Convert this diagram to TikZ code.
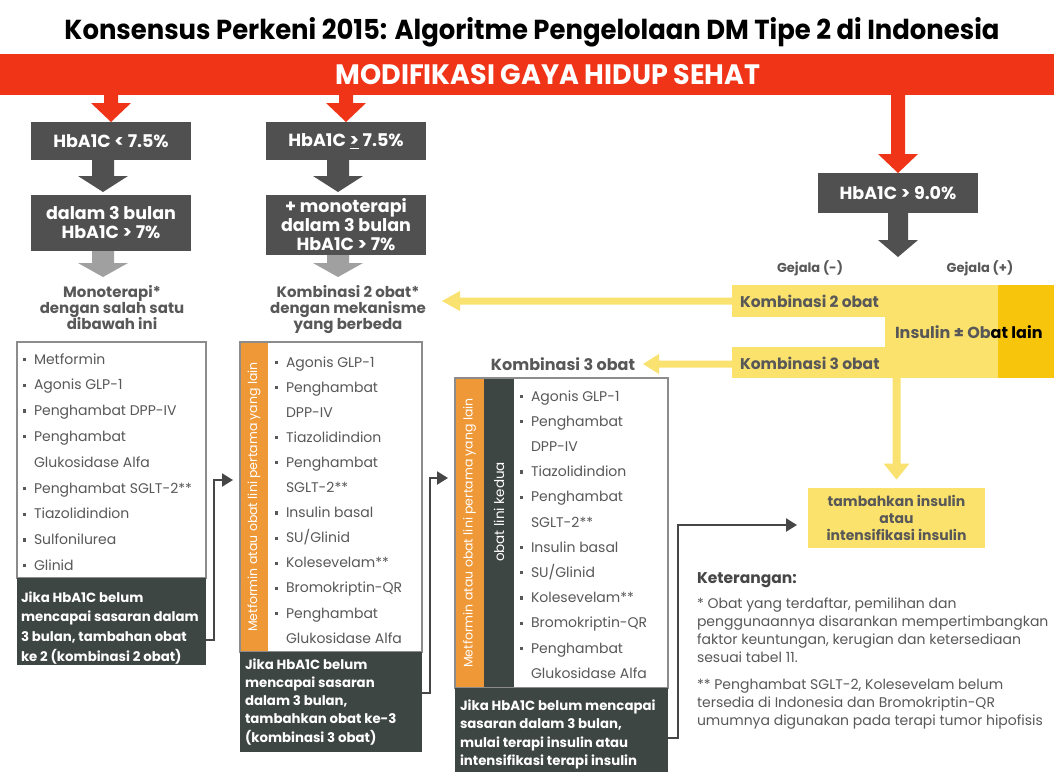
\documentclass[tikz,border=0pt]{standalone}
\usepackage{fontspec}
\setmainfont{Poppins}
\usetikzlibrary{arrows.meta,calc}
\definecolor{bannerred}{RGB}{240,52,24}
\definecolor{boxgray}{RGB}{80,80,80}
\definecolor{lightarrow}{RGB}{160,160,160}
\definecolor{darkbox}{RGB}{62,70,67}
\definecolor{txtgray}{RGB}{88,88,88}
\definecolor{bordergray}{RGB}{140,140,140}
\definecolor{orangestrip}{RGB}{238,152,56}
\definecolor{yel}{RGB}{251,226,108}
\definecolor{yelarrow}{RGB}{250,226,112}
\definecolor{gold}{RGB}{247,198,12}
\definecolor{connc}{RGB}{70,70,70}
\newcommand{\fs}[2]{\fontsize{#1}{#2}\selectfont}
\newcommand{\blt}{\makebox[11pt][l]{\raisebox{3pt}{\rule{3.2pt}{3.2pt}}}}
\newcommand{\barrow}[6]{\fill[#1] let \p1=#2, \p2=#3 in (\x2-#4,\y1) -- (\x2+#4,\y1) -- (\x2+#4,\y2+#6) -- (\x2+#5,\y2+#6) -- (\x2,\y2) -- (\x2-#5,\y2+#6) -- (\x2-#4,\y2+#6) -- cycle;}
\newcommand{\harrowL}[6]{\fill[#1] let \p1=#2, \p2=#3 in (\x1,\y2+#4) -- (\x2+#6,\y2+#4) -- (\x2+#6,\y2+#5) -- (\x2,\y2) -- (\x2+#6,\y2-#5) -- (\x2+#6,\y2-#4) -- (\x1,\y2-#4) -- cycle;}
\begin{document}
\begin{tikzpicture}[x=1pt,y=-1pt,
  every node/.style={inner sep=0pt,outer sep=0pt},
  box/.style 2 args={anchor=north west,minimum width=#1,minimum height=#2},
  hbox/.style={fill=boxgray,text=white,font=\fs{17.5}{19}\bfseries,align=center,minimum width=160pt},
  item/.style={anchor=base west,text=txtgray,font=\fs{14}{16}},
  dtxt/.style={anchor=base west,text=white,font=\fs{13.3}{16}\bfseries},
  htxt/.style={anchor=base,text=txtgray,font=\fs{15}{16}\bfseries},
  ktxt/.style={anchor=base west,text=txtgray,font=\fs{14}{16}},
  conn/.style={draw=connc,line width=2.2pt,-{Triangle[length=11pt,width=13pt]}}]
\useasboundingbox (0,0) rectangle (1054,772);
\fill[white] (0,0) rectangle (1054,772);

% title and banner
\node (title) at (532,32) {\resizebox{935pt}{22pt}{\bfseries Konsensus Perkeni 2015: Algoritme Pengelolaan DM Tipe 2 di Indonesia}};
\node[box={1054pt}{41pt},fill=bannerred] (banner) at (0,54) {};
\node[text=white] (bannertxt) at (548,75) {\resizebox{425pt}{20pt}{\bfseries MODIFIKASI GAYA HIDUP SEHAT}};

% top boxes
\node[hbox,minimum height=38pt] (h1) at (111,141) {HbA1C < 7.5\%};
\node[hbox,minimum height=38pt] (h2) at (346,141) {HbA1C \underline{>} 7.5\%};
\node[hbox,minimum height=56pt] (m1) at (111,223) {dalam 3 bulan\\HbA1C > 7\%};
\node[hbox,minimum height=60pt] (m2) at (346,225) {+ monoterapi\\dalam 3 bulan\\HbA1C > 7\%};
\node[hbox,minimum height=40pt] (h3) at (898,193) {HbA1C > 9.0\%};

% block arrows
\barrow{bannerred}{(banner.south -| h1.north)}{(h1.north)}{7pt}{20pt}{19pt}
\barrow{bannerred}{(banner.south -| h2.north)}{(h2.north)}{7pt}{20pt}{19pt}
\barrow{bannerred}{(banner.south -| h3.north)}{(h3.north)}{7pt}{20pt}{19pt}
\barrow{boxgray}{([xshift=-8pt]h1.south)}{([xshift=-8pt,yshift=3pt]m1.north)}{11pt}{25pt}{16pt}
\barrow{boxgray}{([xshift=-8pt]h2.south)}{([xshift=-8pt,yshift=3pt]m2.north)}{11pt}{25pt}{16pt}
\coordinate (g1) at (103,277);
\coordinate (g2) at (338,277);
\barrow{lightarrow}{(m1.south -| g1)}{(g1)}{11pt}{25pt}{14pt}
\barrow{lightarrow}{(m2.south -| g2)}{(g2)}{11pt}{25pt}{14pt}
\coordinate (g3) at (898,257);
\barrow{boxgray}{(h3.south)}{(g3)}{10pt}{20pt}{17pt}

% headers
\foreach \t [count=\i from 0] in {Monoterapi*,dengan salah satu,dibawah ini}
  \node[htxt] (hda\i) at (112,297+\i*16) {\t};
\foreach \t [count=\i from 0] in {Kombinasi 2 obat*,dengan mekanisme,yang berbeda}
  \node[htxt] (hdb\i) at (348,297+\i*16) {\t};

% right side yellow block
\node[text=txtgray,font=\fs{13}{14}\bfseries] (gm) at (810,268) {Gejala (-)};
\node[text=txtgray,font=\fs{13}{14}\bfseries] (gp) at (980,268) {Gejala (+)};
\node[box={153pt}{32pt},fill=yel] (k2) at (732,285) {};
\node[box={153pt}{31pt},fill=yel] (k3) at (732,347) {};
\node[box={170pt}{93pt},fill=yel] (ins) at (884.5,285) {};
\node[box={56pt}{93pt},fill=gold] (goldp) at (998,285) {};
\node[anchor=west,text=txtgray,font=\fs{15.5}{16}\bfseries] (k2t) at (740,301) {Kombinasi 2 obat};
\node[anchor=west,text=txtgray,font=\fs{15.5}{16}\bfseries] (k3t) at (740,363) {Kombinasi 3 obat};
\node[anchor=west,font=\fs{16}{16}\bfseries] (inst) at (895,332) {\textcolor{txtgray}{Insulin ± Ob}\textcolor{black}{at lain}};
\coordinate (y2tip) at (442,301);
\coordinate (y3tip) at (643,364);
\harrowL{yelarrow}{(k2.west)}{(y2tip)}{3.5pt}{10pt}{18pt}
\harrowL{yelarrow}{(k3.west |- y3tip)}{(y3tip)}{3.5pt}{10pt}{16pt}

\node[fill=yel,minimum width=177pt,minimum height=60pt,align=center,text=txtgray,font=\fs{14}{17}\bfseries] (tam) at (896.5,517.5) {tambahkan insulin\\atau\\intensifikasi insulin};
\barrow{yelarrow}{(tam.north |- ins.south)}{([yshift=8pt]tam.north)}{4pt}{13pt}{16pt}

\node[anchor=center,text=txtgray,font=\fs{16}{18}\bfseries] (k3lbl) at (563,364) {Kombinasi 3 obat};

% list box 1
\node[box={189pt}{236pt},draw=bordergray,line width=1.2pt] (l1) at (17,342) {};
\foreach \t [count=\i from 0] in {{\blt Metformin},{\blt Agonis GLP-1},{\blt Penghambat DPP-IV},{\blt Penghambat},{\hspace*{11pt}Glukosidase Alfa},{\blt Penghambat SGLT-2**},{\blt Tiazolidindion},{\blt Sulfonilurea},{\blt Glinid}}
  \node[item] (la\i) at (23,364+\i*25.8) {\t};
\node[box={189pt}{87pt},fill=darkbox] (d1) at (17,578) {};
\foreach \t [count=\i from 0] in {Jika HbA1C belum,mencapai sasaran dalam,{3 bulan, tambahan obat},ke 2 (kombinasi 2 obat)}
  \node[dtxt] (da\i) at (21,602+\i*19.7) {\t};

% list box 2
\node[box={28pt}{310pt},fill=orangestrip] (o2) at (240,342) {};
\node[box={182pt}{310pt},draw=bordergray,line width=1.2pt] (l2) at (240,342) {};
\node[rotate=90,text=white,font=\fs{12.5}{13}] (o2t) at (o2.center) {Metformin atau obat lini pertama yang lain};
\foreach \t [count=\i from 0] in {{\blt Agonis GLP-1},{\blt Penghambat},{\hspace*{11pt}DPP-IV},{\blt Tiazolidindion},{\blt Penghambat},{\hspace*{11pt}SGLT-2**},{\blt Insulin basal},{\blt SU/Glinid},{\blt Kolesevelam**},{\blt Bromokriptin-QR},{\blt Penghambat},{\hspace*{11pt}Glukosidase Alfa}}
  \node[item] (lb\i) at (275,367+\i*25.1) {\t};
\node[box={182pt}{100pt},fill=darkbox] (d2) at (240,652) {};
\foreach \t [count=\i from 0] in {Jika HbA1C belum,mencapai sasaran,{dalam 3 bulan,},tambahkan obat ke-3,(kombinasi 3 obat)}
  \node[dtxt] (db\i) at (245,669+\i*18.3) {\t};

% list box 3
\node[box={29pt}{310pt},fill=orangestrip] (o3) at (455,378) {};
\node[box={30pt}{310pt},fill=darkbox] (s3) at (484,378) {};
\node[box={213pt}{310pt},draw=bordergray,line width=1.2pt] (l3) at (455,378) {};
\node[rotate=90,text=white,font=\fs{12.5}{13}] (o3t) at (o3.center) {Metformin atau obat lini pertama yang lain};
\node[rotate=90,text=white,font=\fs{13.5}{14}] (s3t) at (499,512) {obat lini kedua};
\foreach \t [count=\i from 0] in {{\blt Agonis GLP-1},{\blt Penghambat},{\hspace*{11pt}DPP-IV},{\blt Tiazolidindion},{\blt Penghambat},{\hspace*{11pt}SGLT-2**},{\blt Insulin basal},{\blt SU/Glinid},{\blt Kolesevelam**},{\blt Bromokriptin-QR},{\blt Penghambat},{\hspace*{11pt}Glukosidase Alfa}}
  \node[item] (lc\i) at (520,401+\i*25.2) {\t};
\node[box={213pt}{84pt},fill=darkbox] (d3) at (455,688) {};
\foreach \t [count=\i from 0] in {Jika HbA1C belum mencapai,{sasaran dalam 3 bulan,},mulai terapi insulin atau,intensifikasi terapi insulin}
  \node[dtxt] (dc\i) at (460,710+\i*18.5) {\t};

% connectors
\coordinate (t1) at (233,480);
\coordinate (t2) at (448,478);
\coordinate (t3) at (797,525);
\draw[conn] (d1.east |- 0,640) -- (214,640) |- (t1);
\draw[conn] (d2.east |- 0,693) -- (430,693) |- (t2);
\draw[conn] (d3.east |- 0,738) -- (678,738) |- (t3);

% keterangan
\node[anchor=base west,text=connc,font=\fs{15.5}{17}\bfseries] (ket) at (697,583) {Keterangan:};
\foreach \t/\yy [count=\i] in {{* Obat yang terdaftar, pemilihan dan}/608,{penggunaannya disarankan mempertimbangkan}/626,{faktor keuntungan, kerugian dan ketersediaan}/644,{sesuai tabel 11.}/662,{** Penghambat SGLT-2, Kolesevelam belum}/689,{tersedia di Indonesia dan Bromokriptin-QR}/707,{umumnya digunakan pada terapi tumor hipofisis}/725}
  \node[ktxt] (kt\i) at (697,\yy) {\t};
\end{tikzpicture}
\end{document}
